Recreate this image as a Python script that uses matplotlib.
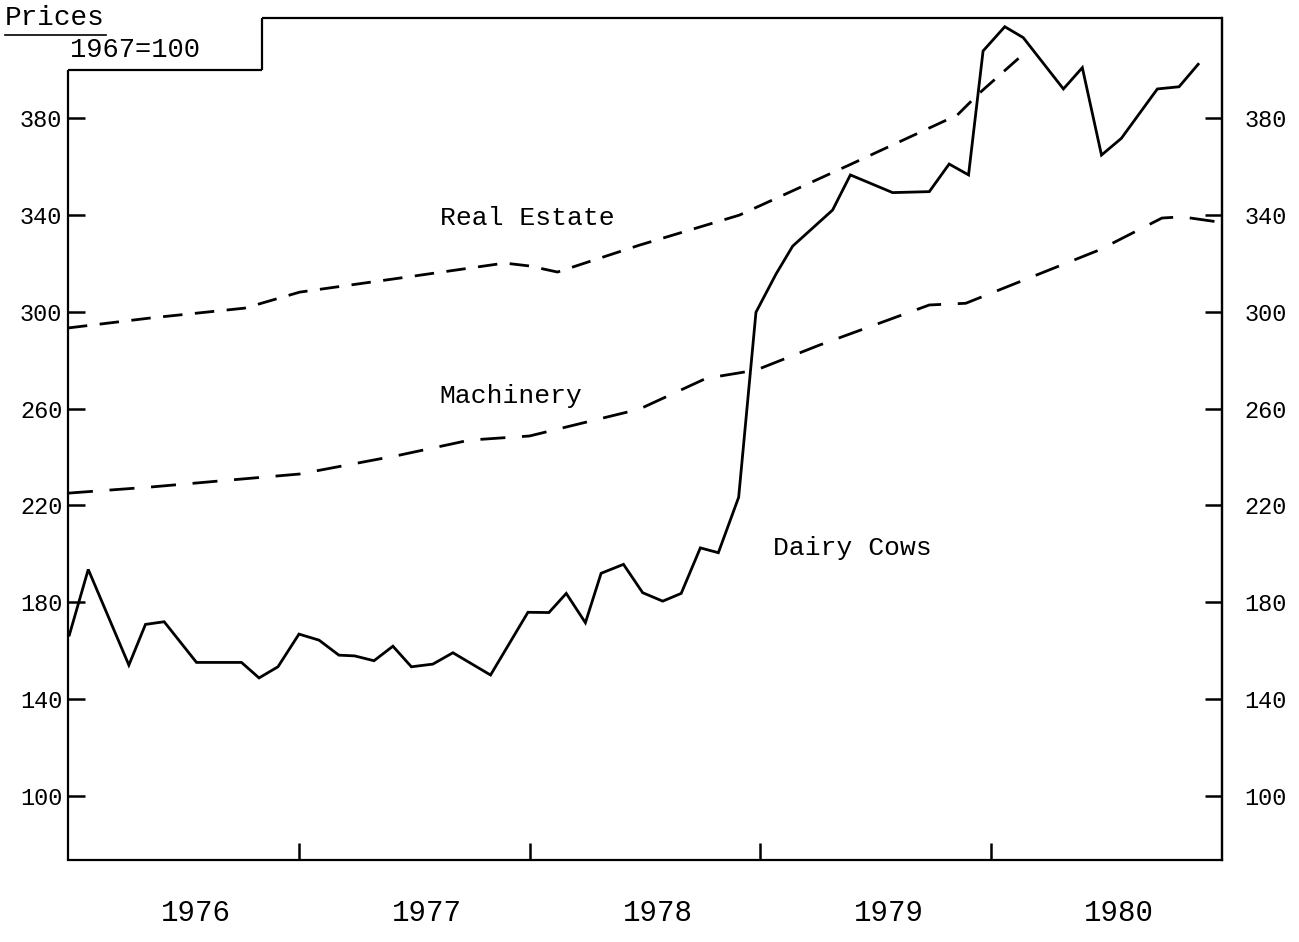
import matplotlib
matplotlib.use("Agg")
import matplotlib.pyplot as plt

# ---- data ----
dairy_x = [1976.006, 1976.088, 1976.264, 1976.336, 1976.417, 1976.557, 1976.752, 1976.828,
           1976.910, 1977.001, 1977.088, 1977.174, 1977.242, 1977.326, 1977.408, 1977.488,
           1977.581, 1977.668, 1977.831, 1977.993, 1978.084, 1978.159, 1978.242, 1978.310,
           1978.407, 1978.490, 1978.577, 1978.657, 1978.740, 1978.818, 1978.906, 1978.981,
           1979.068, 1979.140, 1979.313, 1979.390, 1979.573, 1979.732, 1979.818, 1979.902,
           1979.965, 1980.059, 1980.139, 1980.313, 1980.395, 1980.478, 1980.564, 1980.720,
           1980.814, 1980.897]
dairy_y = [166.5, 193.6, 154.1, 170.9, 172.0, 155.2, 155.2, 148.8,
           153.4, 166.9, 164.4, 158.2, 157.9, 155.9, 161.9, 153.4,
           154.5, 159.2, 150.0, 175.9, 175.8, 183.7, 171.6, 192.0,
           195.7, 184.0, 180.5, 183.7, 202.5, 200.5, 223.4, 299.8,
           315.6, 327.1, 342.0, 356.5, 349.2, 349.6, 361.0, 356.5,
           407.7, 417.7, 413.2, 392.0, 400.8, 364.7, 371.6, 392.0,
           392.9, 402.2]

realestate_x = [1976.0, 1976.355, 1976.766, 1977.004, 1977.437, 1977.892, 1978.0, 1978.121,
                1978.476, 1978.909, 1979.385, 1979.853, 1979.948, 1980.143]
realestate_y = [293.3, 297.4, 301.5, 308.1, 313.9, 320.1, 318.9, 316.4,
                327.5, 339.9, 360.6, 381.2, 390.2, 406.7]

machinery_x = [1976.0, 1976.355, 1976.701, 1977.004, 1977.437, 1977.740, 1978.0, 1978.476,
               1978.765, 1978.981, 1979.255, 1979.732, 1979.890, 1980.468, 1980.740, 1980.827,
               1980.974]
machinery_y = [225.1, 227.6, 230.5, 233.0, 240.8, 247.0, 248.7, 259.8,
               272.5, 275.9, 286.2, 302.8, 303.5, 325.5, 338.7, 339.2,
               337.2]

y_ticks = [100, 140, 180, 220, 260, 300, 340, 380]
year_labels = ["1976", "1977", "1978", "1979", "1980"]
year_label_pos = [1976.555, 1977.555, 1978.555, 1979.555, 1980.555]
year_bounds = [1977, 1978, 1979, 1980]

FONT = "Liberation Mono"

fig = plt.figure(figsize=(12.99, 9.42), dpi=100)
ax = fig.add_axes([0.0523, 0.0870, 0.8884, 0.8939])

lw = 2.0
ax.plot(dairy_x, dairy_y, color="black", lw=lw, solid_joinstyle="miter")
ax.plot(realestate_x, realestate_y, color="black", lw=lw, dashes=(7, 4.5))
ax.plot(machinery_x, machinery_y, color="black", lw=lw, dashes=(9, 6))

xmin, xmax = 1976.0, 1981.0
ymin, ymax = 73.6, 421.3
ax.set_xlim(xmin, xmax)
ax.set_ylim(ymin, ymax)

# custom frame with notch at top-left
for s in ["left", "top"]:
    ax.spines[s].set_visible(False)
for s in ["right", "bottom"]:
    ax.spines[s].set_linewidth(1.6)
notch_x = 1976.84
notch_y = 400.0
frame_kw = dict(color="black", lw=1.6, clip_on=False, solid_capstyle="butt")
ax.plot([xmin, xmin], [ymin, notch_y], **frame_kw)
ax.plot([xmin, notch_x], [notch_y, notch_y], **frame_kw)
ax.plot([notch_x, notch_x], [notch_y, ymax], **frame_kw)
ax.plot([notch_x, xmax], [ymax, ymax], **frame_kw)

# y ticks
ax.set_yticks(y_ticks)
ax.set_yticklabels([str(v) for v in y_ticks], family=FONT, fontsize=17)
ax.tick_params(axis="y", direction="in", length=12, width=1.8, pad=4, left=True, right=False)
ax2 = ax.twinx()
ax2.set_ylim(ymin, ymax)
ax2.set_yticks(y_ticks)
ax2.set_yticklabels([str(v) for v in y_ticks], family=FONT, fontsize=17)
ax2.tick_params(axis="y", direction="in", length=12, width=1.8, pad=16)
for s in ["left", "top", "bottom"]:
    ax2.spines[s].set_visible(False)
ax2.spines["right"].set_linewidth(1.6)

# x ticks: year boundaries (no labels), year labels between them
ax.set_xticks(year_bounds)
ax.set_xticklabels([])
ax.tick_params(axis="x", which="major", direction="in", length=12, width=1.8)
ax.set_xticks(year_label_pos, minor=True)
ax.set_xticklabels(year_labels, minor=True, family=FONT, fontsize=21)
ax.tick_params(axis="x", which="minor", length=0, pad=28)

# series labels
lab_kw = dict(family=FONT, fontsize=19, ha="center", va="center")
ax.text(1977.99, 338.7, "Real Estate", **lab_kw)
ax.text(1977.92, 265.2, "Machinery", **lab_kw)
ax.text(1979.40, 202.4, "Dairy Cows", **lab_kw)

# title block
fig.text(5 / 1299, 1 - 18 / 942, "Prices", family=FONT, fontsize=20, ha="left", va="center")
fig.add_artist(plt.Line2D([5 / 1299, 106 / 1299], [1 - 35 / 942, 1 - 35 / 942], color="black", lw=1.2))
fig.text(70 / 1299, 1 - 50 / 942, "1967=100", family=FONT, fontsize=19.5, ha="left", va="center")

fig.savefig("out.png", dpi=100)
